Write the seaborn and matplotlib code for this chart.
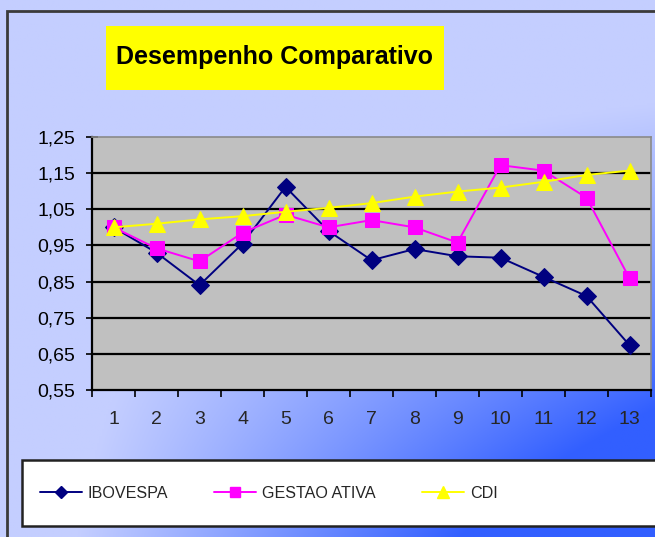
import matplotlib
matplotlib.use("Agg")
import matplotlib.pyplot as plt
from matplotlib.lines import Line2D
from matplotlib.patches import Rectangle
from matplotlib.ticker import FixedLocator, FuncFormatter
import seaborn as sns
import numpy as np

periodos = list(range(1, 14))
ibovespa = [1.00, 0.93, 0.84, 0.955, 1.112, 0.99, 0.909, 0.94, 0.92, 0.916, 0.863, 0.81, 0.674]
gestao_ativa = [1.00, 0.942, 0.906, 0.985, 1.035, 1.00, 1.02, 1.00, 0.958, 1.172, 1.157, 1.082, 0.859]
cdi = [1.00, 1.01, 1.022, 1.031, 1.043, 1.054, 1.067, 1.085, 1.099, 1.11, 1.126, 1.145, 1.157]
y_ticks = [0.55, 0.65, 0.75, 0.85, 0.95, 1.05, 1.15, 1.25]

series = [
    ("IBOVESPA", ibovespa, "#000080", "D", 9, 6),
    ("GESTAO ATIVA", gestao_ativa, "#ff00ff", "s", 10, 7),
    ("CDI", cdi, "#ffff00", "^", 11, 8),
]

sns.set_style("white")
plt.rcParams["font.family"] = ["Liberation Sans", "DejaVu Sans"]

W, H = 655, 537
fig = plt.figure(figsize=(W / 100, H / 100), dpi=100)

# gradient background (light top-left -> strong blue bottom-right)
bg = fig.add_axes([0, 0, 1, 1], zorder=-10)
xs = np.linspace(0, 1, 300)
ys = np.linspace(0, 1, 300)
xx, yy = np.meshgrid(xs, ys)
t = np.clip(xx * yy ** 1.3 * 1.7 - 0.2, 0, 1)
c0 = np.array([196, 206, 255]) / 255
c1 = np.array([50, 95, 255]) / 255
img = c0[None, None, :] * (1 - t[..., None]) + c1[None, None, :] * t[..., None]
bg.imshow(img, extent=[0, 1, 0, 1], aspect="auto", origin="upper")
bg.set_axis_off()

# outer frame
fig.patches.append(Rectangle((7 / W, -0.05), 1.0, 1 - 11 / H + 0.05, transform=fig.transFigure,
                             fill=False, edgecolor="#3a3a3a", linewidth=2, zorder=-5))

ax = fig.add_axes([92 / W, 1 - 390 / H, (651 - 92) / W, (390 - 137) / H])
ax.set_facecolor("#c0c0c0")

for nome, vals, cor, mk, ms, _ in series:
    sns.lineplot(x=periodos, y=vals, ax=ax, color=cor, marker=mk, markersize=ms,
                 markeredgecolor=cor, linewidth=1.4, zorder=3)

ax.set_xlim(0.5, 13.5)
ax.set_ylim(0.55, 1.25)
ax.yaxis.set_major_locator(FixedLocator(y_ticks))
ax.yaxis.set_major_formatter(FuncFormatter(lambda v, p: f"{v:.2f}".replace(".", ",")))
ax.xaxis.set_major_locator(FixedLocator(periodos))
ax.xaxis.set_minor_locator(FixedLocator([p + 0.5 for p in [0] + periodos]))
for v in y_ticks[1:-1]:
    ax.axhline(v, color="black", linewidth=1.6, zorder=1)

ax.tick_params(axis="y", which="major", direction="inout", length=8, width=1.2,
               colors="black", labelsize=14, pad=8, left=True)
ax.tick_params(axis="x", which="major", length=0, labelsize=14, pad=15)
ax.tick_params(axis="x", which="minor", direction="out", length=5, width=1.2, color="black", bottom=True)

for s in ["left", "bottom"]:
    ax.spines[s].set_color("black")
    ax.spines[s].set_linewidth(1.6)
for s in ["top", "right"]:
    ax.spines[s].set_color("#8a8a8a")
    ax.spines[s].set_linewidth(1.2)
ax.set_xlabel("")
ax.set_ylabel("")

# title on yellow box
fig.patches.append(Rectangle((106 / W, 1 - 90 / H), (444 - 106) / W, (90 - 26) / H,
                             transform=fig.transFigure, facecolor="#ffff00", edgecolor="none", zorder=1))
fig.text(274 / W, 1 - 57 / H, "Desempenho Comparativo", ha="center", va="center",
         fontsize=18, fontweight="bold", color="black", zorder=2)

# legend box
fig.patches.append(Rectangle((22 / W, 1 - 526 / H), 1.0, (526 - 460) / H, transform=fig.transFigure,
                             facecolor="white", edgecolor="#222222", linewidth=1.8, zorder=1))
handles = [Line2D([], [], color=cor, marker=mk, markersize=lms, markeredgecolor=cor, linewidth=1.4)
           for _, _, cor, mk, _, lms in series]
labels = [s[0] for s in series]
leg = fig.legend(handles, labels, loc="center left", bbox_to_anchor=(40 / W, 1 - 493 / H),
                 ncol=3, frameon=False, fontsize=11.6, handlelength=2.6, handletextpad=0.37,
                 columnspacing=2.86, borderpad=0, borderaxespad=0)
leg.set_zorder(5)

fig.savefig("out.png", dpi=100)
